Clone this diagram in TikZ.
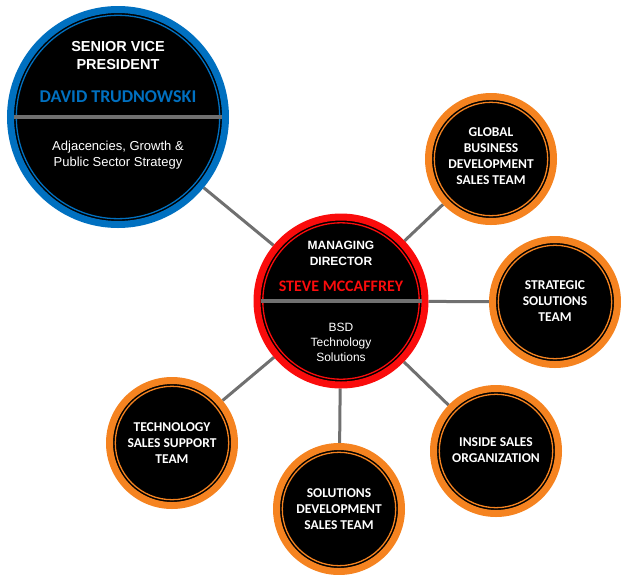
\documentclass[tikz,border=0pt]{standalone}
\usepackage{fontspec}
\setmainfont{Liberation Sans}
\newfontfamily\carlito{Carlito}
\usetikzlibrary{positioning,backgrounds}

\definecolor{ringblue}{RGB}{0,112,192}
\definecolor{ringred}{RGB}{250,12,12}
\definecolor{ringorange}{RGB}{245,131,32}
\definecolor{linkgray}{RGB}{112,112,112}

\begin{document}
\begin{tikzpicture}
[
                   x = 1pt,
                   y = -1pt,
      ring/.style 2 args = { circle, fill=black, draw=#1, line width=7pt, inner sep=0pt, minimum size=#2,
                             path picture={\draw[#1, line width=1.3pt] (path picture bounding box.center) circle ({#2/2-5.8pt});} },
         team/.style = { ring={ringorange}{125pt} },
         link/.style = { draw=linkgray, line width=3pt },
      divider/.style = { draw=linkgray, line width=3.5pt, shorten <=7pt, shorten >=7pt },
     svptitle/.style = { text=white, align=center, font=\bfseries\fontsize{14.5}{18}\selectfont },
      mdtitle/.style = { text=white, align=center, font=\bfseries\fontsize{12}{16}\selectfont },
       person/.style = { align=center, font=\carlito\bfseries\fontsize{18}{20}\selectfont },
        descr/.style = { text=white, align=center, font=\fontsize{13}{16}\selectfont },
       mdescr/.style = { text=white, align=center, font=\fontsize{12}{15}\selectfont },
    teamlabel/.style = { text=white, align=center, font=\carlito\bfseries\fontsize{13.5}{16}\selectfont }
]
	\useasboundingbox (0,0) rectangle (621,574);

	% circles
	\node (svp)       at (118,117) [ring={ringblue}{215pt}] {};
	\node (md)        at (341,301) [ring={ringred}{168pt}] {};
	\node (global)    at (491,159) [team] {};
	\node (strategic) at (555,302) [team] {};
	\node (inside)    at (496,451) [team] {};
	\node (solutions) at (339,509) [team] {};
	\node (tech)      at (172,443) [team] {};

	% connectors
	\begin{scope}[on background layer]
	\draw[link] (md) -- (svp);
	\draw[link] (md) -- (global);
	\draw[link] (md) -- (strategic);
	\draw[link] (md) -- (inside);
	\draw[link] (md) -- (solutions);
	\draw[link] (md) -- (tech);
	\end{scope}

	\draw[divider] (svp.west) -- (svp.east);
	\draw[divider] (md.west) -- (md.east);

	% texts
	\node (svpt) at (118, 56) [svptitle] {SENIOR VICE\\PRESIDENT};
	\node (svpn) at (118, 97) [person, text=ringblue] {DAVID TRUDNOWSKI};
	\node (svpd) at (118,155) [descr] {Adjacencies, Growth \&\\Public Sector Strategy};

	\node (mdt)  at (341,253) [mdtitle] {MANAGING\\DIRECTOR};
	\node (mdn)  at (341,286) [person, text=ringred, font=\carlito\bfseries\fontsize{16}{18}\selectfont] {STEVE MCCAFFREY};
	\node (mdd)  at (341,342) [mdescr] {BSD\\Technology\\Solutions};

	\node (globall)    at (491,156) [teamlabel] {GLOBAL\\BUSINESS\\DEVELOPMENT\\SALES TEAM};
	\node (strategicl) at (555,301) [teamlabel] {STRATEGIC\\SOLUTIONS\\TEAM};
	\node (insidel)    at (496,450) [teamlabel] {INSIDE SALES\\ORGANIZATION};
	\node (solutionsl) at (339,509) [teamlabel] {SOLUTIONS\\DEVELOPMENT\\SALES TEAM};
	\node (techl)      at (172,443) [teamlabel] {TECHNOLOGY\\SALES SUPPORT\\TEAM};

\end{tikzpicture}
\end{document}
